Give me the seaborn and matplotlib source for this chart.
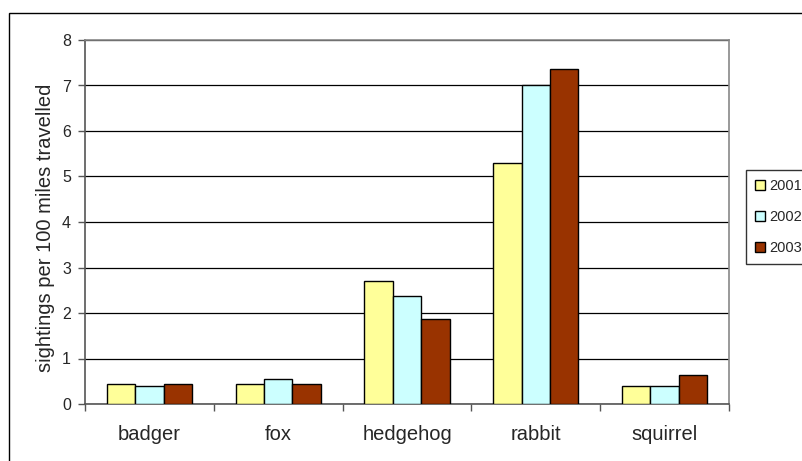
import matplotlib
matplotlib.use("Agg")
import matplotlib.pyplot as plt
import seaborn as sns
import pandas as pd
from matplotlib.patches import Rectangle

animals = ["badger", "fox", "hedgehog", "rabbit", "squirrel"]
years = ["2001", "2002", "2003"]
sightings_2001 = [0.44, 0.44, 2.71, 5.29, 0.40]
sightings_2002 = [0.40, 0.54, 2.38, 7.00, 0.40]
sightings_2003 = [0.44, 0.44, 1.87, 7.36, 0.64]
year_colors = ["#FFFF99", "#CCFFFF", "#993300"]

rows = []
for yr, vals in zip(years, [sightings_2001, sightings_2002, sightings_2003]):
    for a, v in zip(animals, vals):
        rows.append({"animal": a, "year": yr, "value": v})
df = pd.DataFrame(rows)

sns.set_style("white")
plt.rcParams["font.family"] = ["Liberation Sans", "DejaVu Sans"]

fig = plt.figure(figsize=(8.02, 4.61), dpi=100)
ax = fig.add_axes([85 / 802, 1 - 404 / 461, 644 / 802, 364 / 461])

sns.barplot(data=df, x="animal", y="value", hue="year", order=animals,
            hue_order=years, palette=year_colors, saturation=1, width=0.66,
            gap=0, edgecolor="black", linewidth=1.0, ax=ax, zorder=3,
            legend=True)

ax.set_ylim(0, 8)
ax.set_xlim(-0.5, len(animals) - 0.5)
ax.set_yticks(range(0, 9))
ax.yaxis.grid(True, color="black", linewidth=0.9, zorder=0)
ax.set_axisbelow(True)

ax.set_xlabel("")
ax.set_ylabel("sightings per 100 miles travelled", fontsize=14.5)
ax.yaxis.set_label_coords(-0.046, 0.485)

# category boundary ticks on the x axis
ax.set_xticks([i - 0.5 for i in range(len(animals) + 1)], minor=False)
ax.set_xticklabels([])
ax.set_xticks(range(len(animals)), minor=True)
ax.set_xticklabels(animals, minor=True, fontsize=14.5)
ax.tick_params(axis="x", which="major", direction="out", length=5, width=1,
               color="#555555", bottom=True)
ax.tick_params(axis="x", which="minor", length=0, pad=15)
ax.tick_params(axis="y", direction="out", length=5, width=1, color="#555555",
               left=True, labelsize=11.5, pad=5)

for side in ["left", "bottom"]:
    ax.spines[side].set_color("#555555")
    ax.spines[side].set_linewidth(1.2)
for side in ["top", "right"]:
    ax.spines[side].set_visible(True)
    ax.spines[side].set_color("#888888")
    ax.spines[side].set_linewidth(1.2)

leg = ax.legend(loc="center left", bbox_to_anchor=(746 / 802, 1 - 217 / 461),
                bbox_transform=fig.transFigure, frameon=True, fancybox=False,
                edgecolor="black", fontsize=10.5, handlelength=0.7,
                handleheight=0.7, handletextpad=0.3, labelspacing=1.15,
                borderpad=0.6, borderaxespad=0)
leg.get_frame().set_linewidth(1.0)

# outer chart frame
fig.patches.append(Rectangle((9 / 802, -0.1), 1.2, 1 - 13 / 461 + 0.1,
                             transform=fig.transFigure, fill=False,
                             edgecolor="black", linewidth=1.0, zorder=0))

fig.savefig("out.png", dpi=100)
